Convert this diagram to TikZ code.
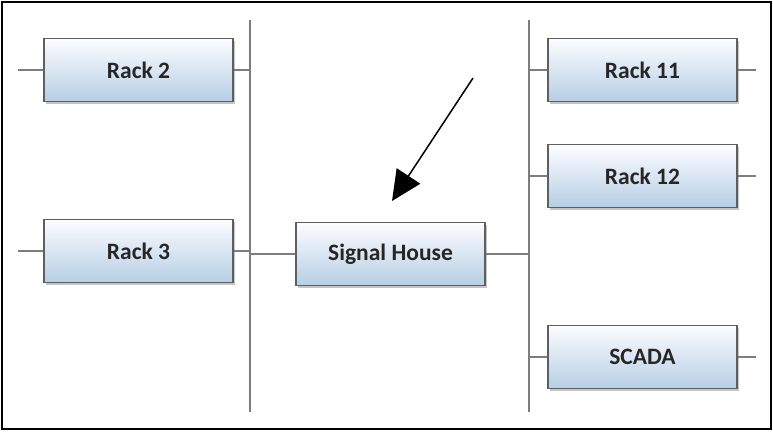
\documentclass[tikz,border=0pt]{standalone}
\usepackage{fontspec}
\setmainfont{Carlito}
\usetikzlibrary{positioning, arrows.meta, shadows}
\definecolor{boxtop}{RGB}{252,253,255}
\definecolor{boxbot}{RGB}{182,206,228}
\definecolor{boxedge}{RGB}{95,95,95}
\definecolor{wire}{RGB}{125,125,125}
\definecolor{labeltext}{RGB}{38,38,38}

\tikzset{
  rackbox/.style={draw=boxedge, line width=1.2pt, rectangle,
    top color=boxtop, bottom color=boxbot,
    minimum width=189pt, minimum height=63pt, inner sep=0pt,
    text=labeltext, font=\bfseries\fontsize{23.5}{28}\selectfont,
    drop shadow={shadow xshift=2pt, shadow yshift=-2pt, fill=black!45}},
  wireline/.style={draw=wire, line width=1.4pt}
}

\begin{document}
\begin{tikzpicture}[x=1pt, y=-1pt, >=Triangle]

\useasboundingbox (0,0) rectangle (773,431);

% Cadre
\draw[line width=2.2pt] (2,2) rectangle (771,429);

% Bus verticaux
\coordinate (lbusTop) at (250,20);
\coordinate (lbusBot) at (250,412);
\coordinate (rbusTop) at (529,20);
\coordinate (rbusBot) at (529,412);
\draw[wireline] (lbusTop) -- (lbusBot);
\draw[wireline] (rbusTop) -- (rbusBot);

% Racks a gauche
\node[rackbox] (rack2) at (138.5,70) {Rack 2};
\node[rackbox] (rack3) at (138.5,251) {Rack 3};

% Signal House
\node[rackbox] (house) at (390.5,254) {Signal House};

% Racks a droite
\node[rackbox] (rack11) at (642.5,70) {Rack 11};
\node[rackbox] (rack12) at (642.5,176) {Rack 12};
\node[rackbox] (scada) at (642.5,357) {SCADA};

% Bouts libres
\coordinate (rack2L) at (18,70);
\coordinate (rack3L) at (18,251);
\coordinate (rack11R) at (756,70);
\coordinate (rack12R) at (756,176);
\coordinate (scadaR) at (756,357);

% Liaisons
\foreach \n in {rack2, rack3} {
    \draw[wireline] (\n.west) -- (\n L);
    \draw[wireline] (\n.east) -- (\n.east -| lbusTop);
}
\foreach \n in {rack11, rack12, scada} {
    \draw[wireline] (\n.west) -- (\n.west -| rbusTop);
    \draw[wireline] (\n.east) -- (\n R);
}
\draw[wireline] (house.west) -- (house.west -| lbusTop);
\draw[wireline] (house.east) -- (house.east -| rbusTop);

% Fleche
\coordinate (arrowTail) at (473,78);
\coordinate (arrowHead) at (392,201);
\draw[->, line width=1.5pt, arrows={-Triangle[length=30pt, width=28pt]}] (arrowTail) -- (arrowHead);

\end{tikzpicture}
\end{document}
